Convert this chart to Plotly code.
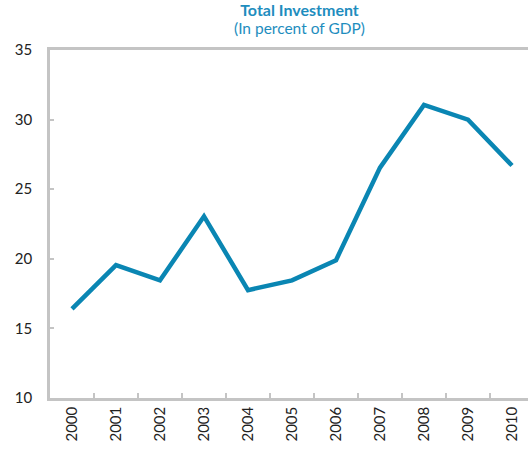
import plotly.graph_objects as go

years = ["2000", "2001", "2002", "2003", "2004", "2005", "2006", "2007", "2008", "2009", "2010"]
investment = [16.4, 19.55, 18.45, 23.05, 17.75, 18.45, 19.9, 26.55, 31.05, 30.0, 26.7]
y_ticks = [10, 15, 20, 25, 30, 35]

xpos = list(range(len(years)))

W, H = 528, 451
L, T, B, R = 50, 50, 53, 0
pw, ph = W - L - R, H - T - B

fig = go.Figure()
fig.add_trace(go.Scatter(
    x=xpos, y=investment, mode="lines",
    line=dict(color="#0A86B3", width=4.5),
    hoverinfo="skip",
))

fig.update_layout(
    width=W, height=H,
    margin=dict(l=L, r=R, t=T, b=B),
    paper_bgcolor="white", plot_bgcolor="white",
    showlegend=False,
    font=dict(family="Lato, 'Open Sans', sans-serif", size=15, color="#222222"),
)

cx = (299 - L) / pw
fig.add_annotation(
    text="<span style='font-size:16px'><b>Total Investment</b></span><br>"
         "<span style='font-size:15.5px'>(In percent of GDP)</span>",
    xref="paper", yref="paper",
    x=cx, y=1 + (T - 18.5) / ph, xanchor="center", yanchor="middle",
    showarrow=False, font=dict(size=13.5, color="#1E8DBE"),
)

fig.update_xaxes(
    range=[-0.5, -0.5 + pw / 44],
    tickmode="array", tickvals=xpos, ticktext=years, tickangle=-90,
    ticks="", showgrid=False, zeroline=False,
    showline=True, linecolor="#C4C4C4", linewidth=2.5, mirror=True,
    tickfont=dict(size=15, color="#222222"),
    minor=dict(tickmode="array", tickvals=[i + 0.5 for i in xpos[:-1]], ticks="inside",
               ticklen=5, tickcolor="#C4C4C4", tickwidth=2, showgrid=False),
)
fig.update_yaxes(
    range=[10, 35], tickmode="array", tickvals=y_ticks,
    ticks="inside", ticklen=4, tickcolor="#C4C4C4", tickwidth=2,
    showgrid=False, zeroline=False,
    showline=True, linecolor="#C4C4C4", linewidth=2.5, mirror=False,
    tickfont=dict(size=15, color="#222222"),
    ticklabelstandoff=12,
)

fig.write_html("out.html", config={"displayModeBar": False},
               post_script="document.body.style.margin='0';")
